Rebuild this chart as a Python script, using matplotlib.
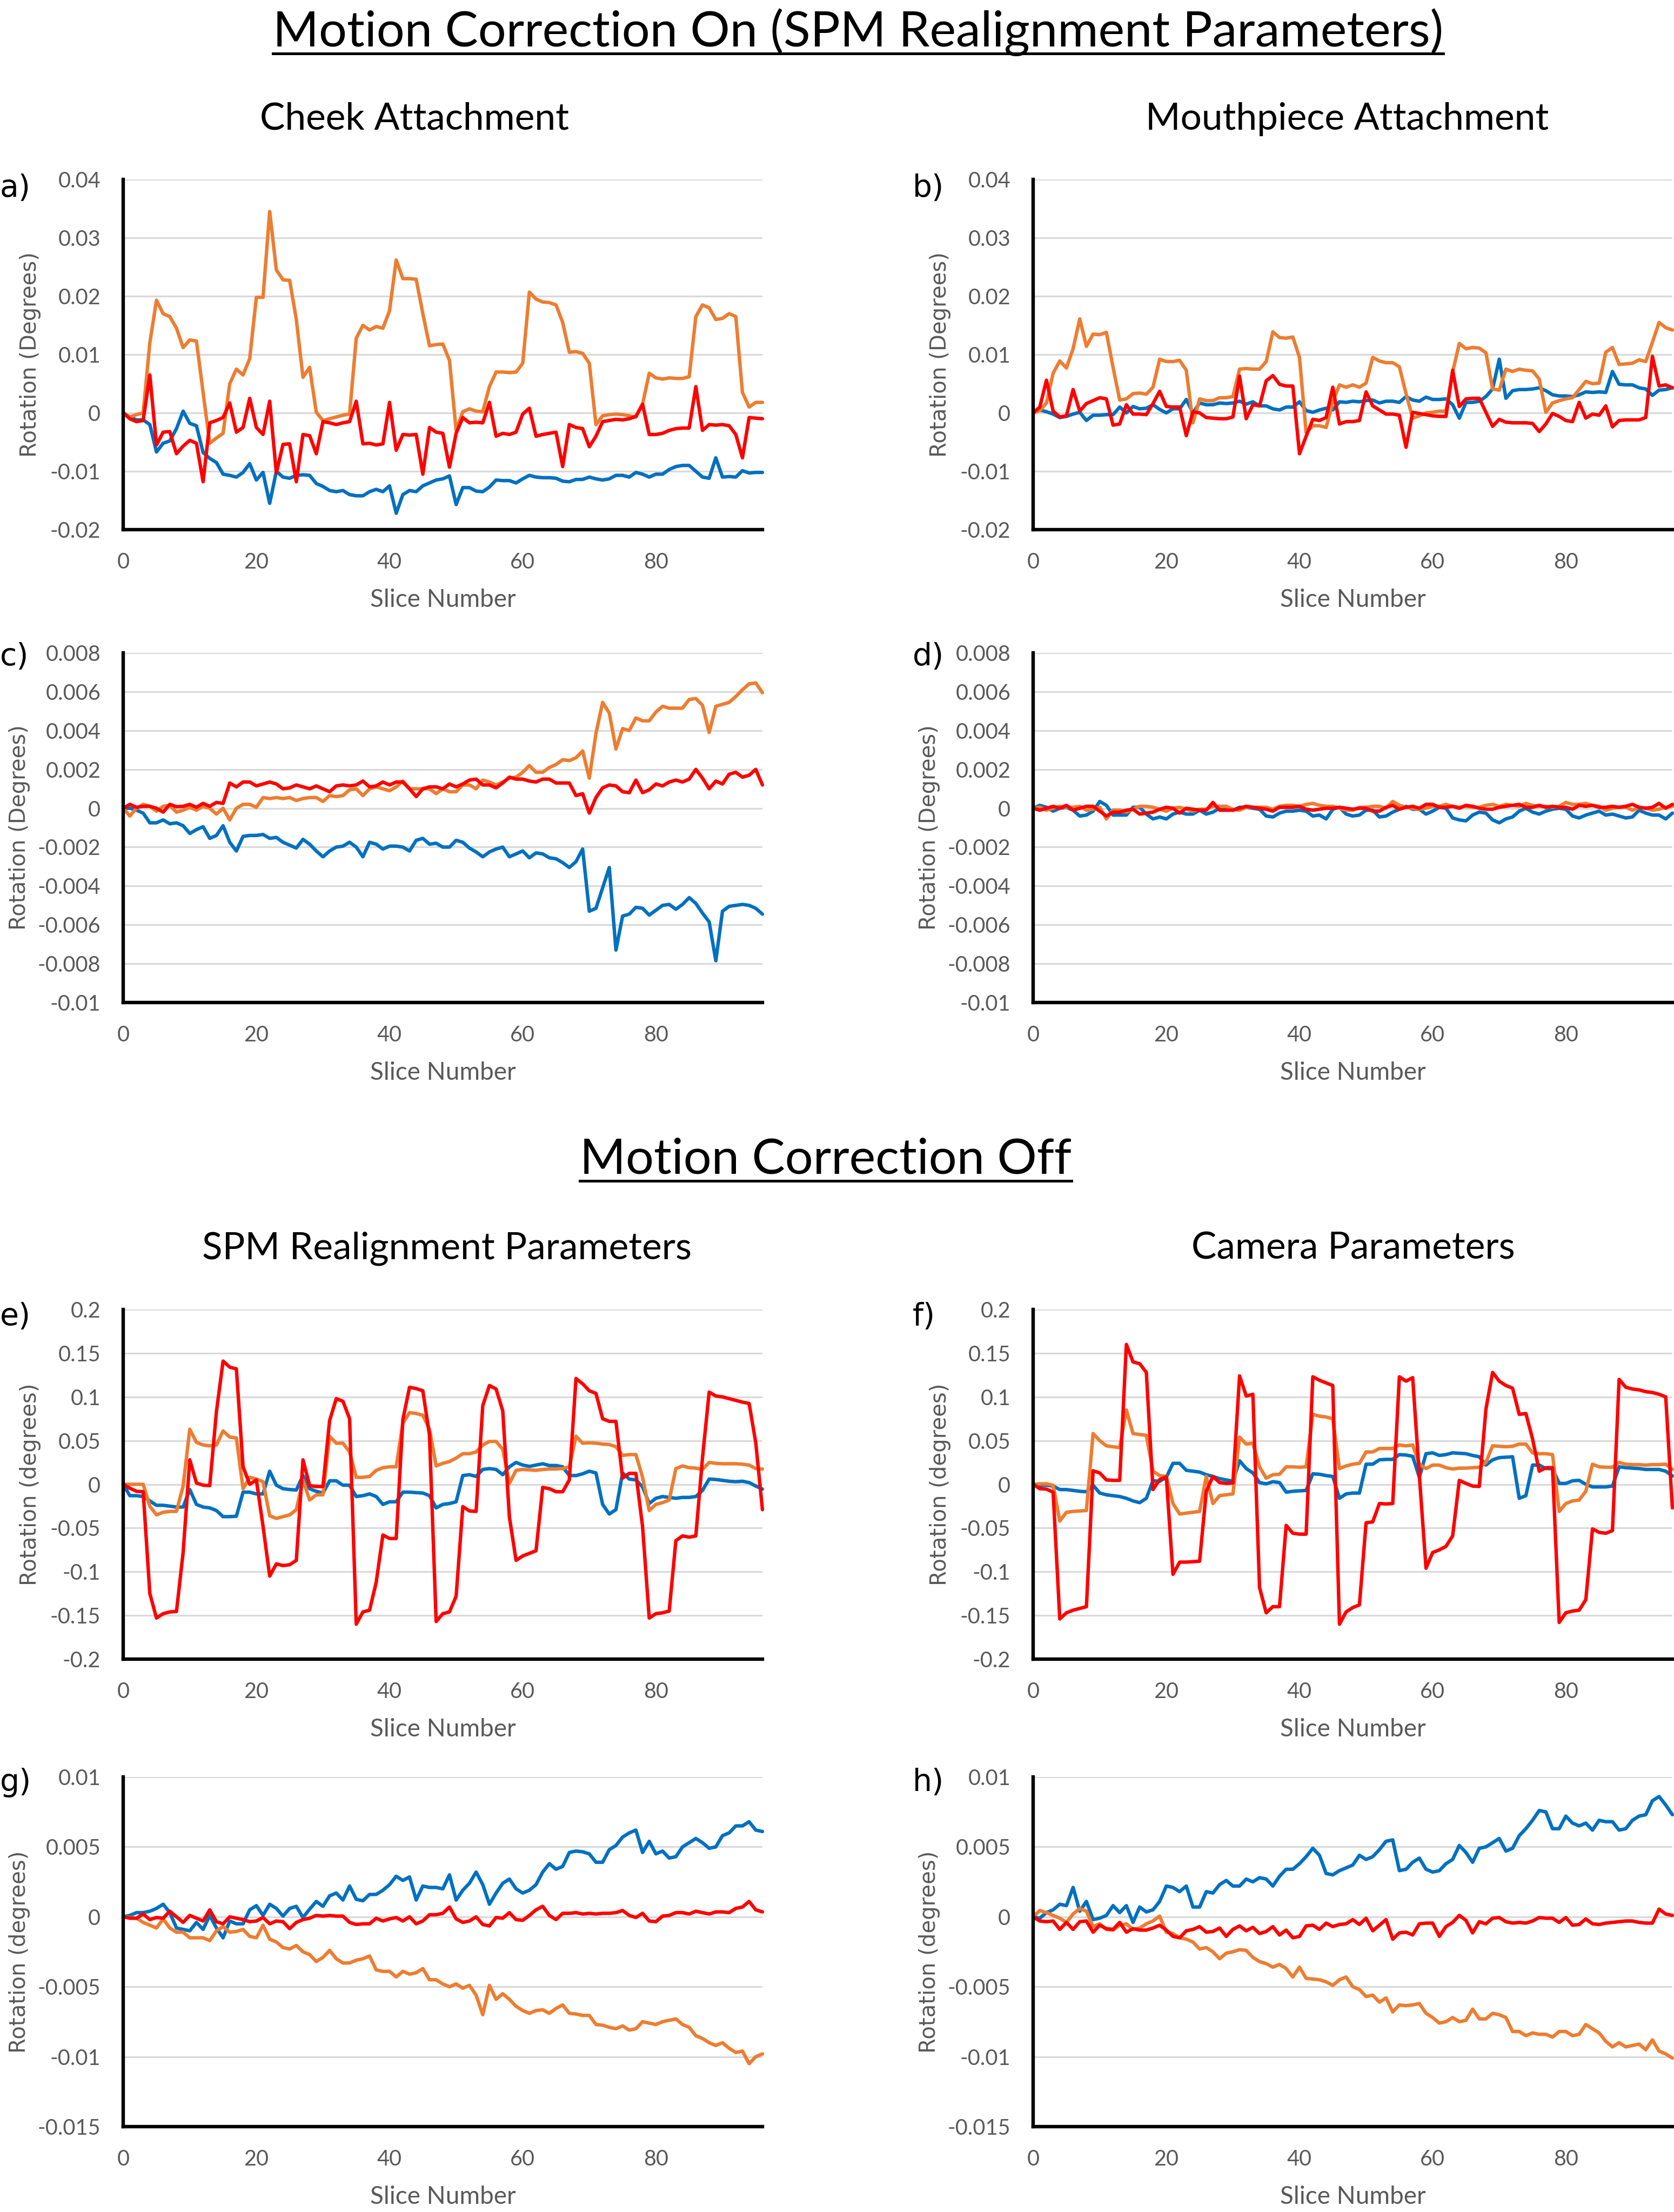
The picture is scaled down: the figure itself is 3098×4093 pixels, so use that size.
import matplotlib
matplotlib.use('Agg')
import matplotlib.pyplot as plt
import numpy as np
from matplotlib.lines import Line2D

# ---------------- data (slice 0..96) ----------------
slices = list(range(97))

# panel a (x1e-3)
a_blue = [0, -0.7, -1.2, -1.2, -2.0, -6.7, -5.2, -4.8, -2.7, 0.3, -1.8, -2.2, -6.8, -7.8, -8.5, -10.5, -10.7, -11.0, -10.2, -8.7,
          -11.5, -10.2, -15.5, -10.0, -11.0, -11.2, -10.7, -10.6, -10.7, -12.1, -12.6, -13.3, -13.5, -13.3, -14.0, -14.2, -14.2, -13.5, -13.1, -13.5,
          -12.5, -17.2, -14.0, -13.3, -13.5, -12.5, -12.0, -11.5, -11.3, -10.8, -15.7, -12.8, -12.8, -13.4, -13.5, -12.7, -11.5, -11.6, -11.6, -12.0,
          -11.3, -10.7, -11.0, -11.1, -11.1, -11.2, -11.7, -11.8, -11.4, -11.4, -11.0, -11.3, -11.5, -11.3, -10.7, -10.7, -11.0, -10.2, -10.5, -11.0,
          -10.5, -10.5, -9.7, -9.2, -9.0, -9.0, -10.0, -11.0, -11.2, -7.7, -11.0, -10.9, -11.0, -9.9, -10.3, -10.2, -10.2]
a_orange = [0, -0.7, -0.3, 0, 12, 19.3, 17, 16.5, 14.5, 11.2, 12.5, 12.3, 3.5, -5.2, -4.3, -3.5, 5, 7.5, 6.5, 9.3,
            19.8, 19.8, 34.5, 24.5, 22.8, 22.7, 16, 6.1, 7.8, 0.1, -1.3, -1.0, -0.7, -0.4, -0.2, 12.8, 15, 14.2, 14.8, 14.5,
            17.5, 26.2, 23, 23, 22.9, 17, 11.5, 11.7, 11.8, 9, -3, 0.2, 0.7, 0.3, 0.2, 4.5, 7, 7, 6.9, 7,
            8.5, 20.7, 19.5, 19, 18.9, 18.5, 15.5, 10.4, 10.5, 10.2, 8.5, -2, -0.5, -0.3, -0.2, -0.3, -0.5, -0.7, 1.5, 6.8,
            6, 5.8, 6, 5.9, 5.9, 6.2, 16.5, 18.5, 18, 16, 16.2, 17, 16.5, 3.5, 1, 1.8, 1.8]
a_red = [0, -1.0, -1.5, -1.3, 6.5, -5.5, -3.3, -3.2, -7.0, -5.7, -4.7, -5.2, -11.8, -1.7, -1.3, -0.8, 1.7, -3.3, -2.5, 2.5,
         -2.5, -3.7, 2.0, -10.3, -5.4, -5.3, -11.8, -3.7, -3.9, -7.0, -1.5, -1.7, -2.0, -1.7, -1.5, 2.0, -5.3, -5.2, -5.5, -5.3,
         1.8, -6.4, -3.7, -3.8, -3.7, -10.5, -2.5, -3.3, -3.5, -9.3, -3.5, -0.8, -1.7, -1.6, -1.7, 1.8, -4.0, -3.5, -3.7, -3.3,
         -0.2, 0.8, -4.0, -3.7, -3.5, -3.3, -9.2, -2.0, -2.5, -2.7, -5.8, -4.0, -1.5, -1.3, -1.1, -1.2, -1.0, -0.6, 1.5, -3.7,
         -3.7, -3.5, -3.0, -2.7, -2.6, -2.6, 4.5, -3.0, -2.0, -2.1, -2.0, -2.2, -3.7, -7.7, -0.8, -0.9, -1.0]

# panel b (x1e-3)
b_blue = [0, 0.5, 0.2, -0.2, -0.8, -0.6, -0.2, 0.1, -1.3, -0.4, -0.4, -0.3, -0.3, 1.0, 0.0, 1.1, 0.7, 0.8, 1.4, 0.6,
          0.0, 0.7, 0.7, 2.3, 0.0, 1.7, 1.4, 1.4, 1.7, 1.6, 1.7, 2.0, 1.5, 1.9, 1.2, 1.2, 0.7, 0.5, 1.0, 1.0,
          1.9, 0.4, 0.1, 0.5, 0.8, 0.5, 1.9, 1.8, 2.0, 1.9, 2.1, 2.2, 1.7, 2.0, 2.0, 1.8, 2.8, 2.2, 2.0, 2.7,
          2.3, 2.3, 2.4, 1.4, -0.9, 1.8, 1.8, 2.0, 2.8, 4.1, 9.2, 2.5, 3.8, 4.0, 4.0, 4.1, 4.3, 3.8, 3.1, 2.9,
          2.9, 2.8, 3.1, 3.6, 3.5, 3.6, 3.5, 7.1, 4.9, 4.8, 4.8, 4.3, 4.1, 3.0, 3.9, 4.0, 4.3]
b_orange = [0, 0.4, 1.7, 6.8, 8.9, 7.7, 11.0, 16.1, 11.4, 13.5, 13.4, 13.8, 7.8, 2.2, 2.4, 3.3, 3.4, 3.2, 4.4, 9.2,
            8.8, 8.8, 9.0, 7.3, -1.7, 2.4, 2.1, 2.1, 2.6, 2.6, 2.8, 7.5, 7.6, 7.5, 7.5, 8.8, 13.9, 12.9, 12.8, 13.0,
            9.5, -3.4, -2.2, -2.2, -2.5, 1.9, 4.8, 4.4, 4.8, 4.4, 5.1, 9.5, 8.9, 8.6, 8.6, 7.9, 3.3, -0.9, -0.5, 0.0,
            0.1, 0.3, 0.3, 7.0, 11.9, 11.0, 11.2, 11.1, 10.3, 4.1, 3.9, 7.5, 7.1, 7.5, 7.3, 7.2, 5.8, 0.1, 1.7, 2.1,
            2.4, 2.6, 4.0, 5.4, 5.0, 5.1, 10.4, 11.2, 8.3, 8.4, 8.5, 9.1, 8.8, 12.1, 15.5, 14.6, 14.2]
b_red = [0, 1.0, 5.6, 0.3, -0.7, -0.5, 4.0, 0.3, 1.6, 2.1, 2.6, 2.4, -2.1, -1.9, 1.4, -0.2, -0.2, -0.3, 1.6, 3.7,
         1.1, 1.0, 1.0, -3.9, 0.2, 0.0, -0.8, -0.9, -1.0, -1.0, -0.7, 6.3, -1.0, 1.4, 1.2, 5.5, 6.4, 4.9, 4.6, 4.6,
         -7.0, -4.0, -1.1, -1.3, -0.8, 4.4, -1.9, -1.5, -1.5, -1.3, 3.6, 1.2, 0.5, -0.2, -0.2, -0.4, -5.9, 0.1, -0.1, -0.3,
         -0.5, -0.6, -0.6, 7.3, 1.1, 2.4, 2.5, 2.5, 0.1, -2.3, -1.1, -1.6, -1.7, -1.7, -1.7, -1.8, -3.2, -1.9, -0.1, -0.6,
         -1.3, -1.5, 1.8, -0.9, -0.2, -0.4, 1.2, -2.4, -1.3, -1.2, -1.2, -1.2, -0.8, 9.7, 4.6, 4.8, 4.3]

# panel c (x1e-3)
c_blue = [0, 0, -0.1, -0.25, -0.75, -0.75, -0.6, -0.8, -0.75, -0.9, -1.3, -1.1, -0.95, -1.55, -1.4, -0.9, -1.75, -2.2, -1.45, -1.4,
          -1.4, -1.35, -1.55, -1.5, -1.75, -1.9, -2.05, -1.6, -1.85, -2.2, -2.5, -2.2, -2.0, -1.95, -1.75, -2.0, -2.5, -1.75, -1.85, -2.1,
          -1.95, -1.95, -2.0, -2.2, -1.65, -1.55, -1.85, -1.8, -2.0, -2.0, -1.65, -1.75, -2.05, -2.25, -2.5, -2.25, -2.1, -2.0, -2.5, -2.35,
          -2.2, -2.55, -2.3, -2.35, -2.55, -2.6, -2.8, -3.05, -2.75, -2.1, -5.3, -5.15, -4.1, -3.05, -7.3, -5.55, -5.45, -5.1, -5.15, -5.5,
          -5.25, -5.0, -4.95, -5.2, -4.95, -4.6, -4.9, -5.4, -5.85, -7.85, -5.3, -5.05, -5.0, -4.95, -5.0, -5.15, -5.45]
c_orange = [0, -0.4, 0, 0.2, 0.1, -0.15, 0.1, 0.15, -0.2, -0.1, 0.05, -0.1, 0.1, 0, -0.3, 0, -0.6, 0, 0.2, 0.2,
            0.05, 0.55, 0.5, 0.55, 0.5, 0.55, 0.4, 0.5, 0.55, 0.55, 0.35, 0.65, 0.6, 0.65, 0.95, 1.0, 0.65, 1.0, 1.1, 1.0,
            0.9, 1.1, 1.4, 1.0, 1.0, 1.0, 1.0, 0.75, 1.0, 0.85, 0.85, 1.2, 1.2, 1.0, 1.45, 1.35, 1.2, 1.35, 1.55, 1.6,
            1.85, 2.2, 1.85, 1.85, 2.1, 2.25, 2.5, 2.45, 2.6, 2.95, 1.55, 3.85, 5.45, 4.9, 3.05, 4.1, 4.0, 4.65, 4.5, 4.5,
            4.95, 5.25, 5.15, 5.15, 5.15, 5.6, 5.65, 5.3, 3.9, 5.25, 5.35, 5.45, 5.75, 6.1, 6.4, 6.45, 5.95]
c_red = [0, 0.2, 0.05, 0.1, 0.1, 0, -0.2, 0.2, 0.08, 0.1, 0.2, 0.05, 0.25, 0.1, 0.3, 0.25, 1.3, 1.1, 1.35, 1.35,
         1.15, 1.25, 1.35, 1.25, 1.0, 1.05, 1.2, 1.1, 1.0, 1.15, 1.0, 0.85, 1.15, 1.2, 1.15, 1.2, 1.4, 1.1, 1.15, 1.35,
         1.2, 1.35, 1.35, 1.0, 0.6, 1.0, 1.1, 1.1, 1.0, 1.25, 1.1, 1.25, 1.45, 1.5, 1.2, 1.2, 1.05, 1.3, 1.6, 1.5,
         1.5, 1.4, 1.35, 1.5, 1.5, 1.3, 1.3, 1.3, 0.65, 0.75, -0.25, 0.55, 1.05, 1.2, 1.15, 0.85, 0.8, 1.45, 0.8, 0.95,
         1.25, 1.15, 1.35, 1.45, 1.35, 1.5, 2.0, 1.55, 1.0, 1.4, 1.25, 1.75, 1.85, 1.6, 1.7, 2.0, 1.2]

# panel d (x1e-3)
d_blue = [0, 0.15, 0.05, -0.15, 0, 0.05, -0.1, -0.4, -0.35, -0.15, 0.35, 0.15, -0.35, -0.35, -0.35, 0.05, 0.05, -0.3, -0.55, -0.45,
          -0.55, -0.3, -0.2, -0.3, -0.3, -0.1, -0.3, -0.2, 0, 0.05, -0.1, 0.05, 0.05, 0, -0.05, -0.4, -0.45, -0.25, -0.15, -0.15,
          -0.1, -0.15, -0.4, -0.35, -0.55, -0.05, 0.05, -0.3, -0.4, -0.35, -0.1, -0.1, -0.45, -0.4, -0.2, -0.05, 0.1, -0.05, -0.05, -0.3,
          -0.15, 0.05, 0, -0.5, -0.6, -0.65, -0.35, -0.2, -0.25, -0.6, -0.75, -0.55, -0.45, -0.15, 0, -0.2, -0.3, -0.15, -0.05, 0,
          -0.05, -0.4, -0.5, -0.35, -0.25, -0.15, -0.35, -0.3, -0.4, -0.5, -0.45, -0.1, -0.25, -0.35, -0.35, -0.55, -0.25]
d_orange = [0, 0.05, -0.1, 0, 0.1, 0.05, 0.05, 0.1, -0.1, -0.05, 0.05, -0.55, -0.1, -0.1, -0.2, -0.05, 0.1, 0.1, 0.05, -0.05,
            -0.15, 0, 0.05, -0.05, -0.15, -0.05, -0.05, 0.1, 0.1, 0.1, -0.05, -0.1, 0.05, 0.05, 0.05, 0.05, -0.05, 0.1, 0.15, 0.15,
            0.1, 0.2, 0.25, 0.15, 0.1, 0.1, 0, -0.1, -0.1, 0.05, 0.05, 0.1, 0.1, 0, 0.35, 0.15, 0.05, 0, -0.05, 0,
            0.1, 0.1, 0.2, 0.1, 0.05, 0.1, 0.05, 0.05, 0.15, 0.2, 0.1, 0.2, 0.15, 0.1, 0.25, 0.15, 0.1, 0.1, 0.05, 0.1,
            0.3, 0.2, 0.2, 0.25, 0.15, 0.1, -0.1, 0, 0.05, 0.05, -0.1, 0.05, 0, -0.1, -0.05, 0.05, 0.1]
d_red = [0, -0.1, 0, 0.1, 0, 0.15, -0.1, 0, 0.1, 0.1, -0.15, -0.4, -0.2, -0.2, -0.1, -0.05, -0.3, -0.25, -0.2, -0.05,
         0.05, 0, -0.25, 0, -0.05, -0.1, -0.1, 0.3, -0.1, -0.1, -0.1, 0, 0.1, 0.05, 0, -0.05, -0.15, 0.05, 0.05, 0.05,
         0.1, -0.05, -0.1, -0.05, 0, 0, 0.05, 0, -0.05, 0, 0, -0.15, -0.15, 0.05, 0.15, -0.05, 0.05, 0.1, 0, 0.2,
         0.2, 0.05, 0.05, 0.1, 0, 0.15, 0.1, 0, -0.05, -0.05, 0.05, 0.1, 0.15, 0.2, 0.05, 0.05, 0.15, 0.05, 0.1, 0.05,
         0.05, -0.05, 0.15, 0.1, 0.15, 0.05, 0.05, 0.1, 0.05, 0.1, 0.2, 0.05, 0, 0.05, 0.25, 0, 0.2]

# panel e (x1e-2)
e_blue = [0, -1.3, -1.3, -1.4, -1.9, -2.4, -2.4, -2.5, -2.6, -2.6, -0.6, -2.3, -2.6, -2.7, -3.0, -3.7, -3.7, -3.65, -0.9, -0.9,
          -1.1, -1.1, 1.5, -0.1, -0.5, -0.6, -0.65, 1.0, -0.5, -0.8, -1.0, 0.4, 0.4, -0.1, -0.1, -1.4, -1.3, -1.1, -1.4, -2.3,
          -2.0, -2.0, -0.9, -0.9, -0.95, -1.0, -1.3, -2.7, -2.3, -2.2, -2.0, 1.0, 1.1, 0.9, 1.7, 1.8, 1.7, 1.1, 2.0, 2.5,
          2.2, 2.05, 2.2, 2.35, 2.15, 2.15, 2.0, 1.0, 1.0, 1.2, 1.5, 1.3, -2.3, -3.4, -2.9, 1.3, 0.6, 0.5, -0.3, -2.2,
          -1.6, -1.4, -1.5, -1.6, -1.5, -1.5, -1.4, -0.7, 0.6, 0.55, 0.45, 0.35, 0.3, 0.35, 0.2, -0.2, -0.55]
e_orange = [0, 0, 0, 0, -2.5, -3.5, -3.2, -3.1, -3.1, -0.2, 6.3, 4.8, 4.5, 4.4, 4.5, 6.1, 5.4, 5.3, -0.5, 0.8,
            0.6, 0.3, -3.6, -3.9, -3.7, -3.5, -2.9, 0.5, -1.8, -1.2, -1.2, 5.5, 4.7, 4.7, 3.7, 0.8, 0.8, 0.9, 1.6, 1.9,
            2.0, 2.0, 7.0, 8.2, 8.1, 7.9, 6.3, 2.1, 2.4, 2.6, 3.0, 3.5, 3.5, 3.7, 4.5, 4.9, 4.9, 4.0, 0.1, 1.6,
            1.7, 1.65, 1.6, 1.7, 1.75, 1.75, 1.8, 2.0, 5.5, 4.7, 4.75, 4.7, 4.6, 4.55, 4.3, 3.3, 3.4, 3.4, 0.8, -3.0,
            -2.3, -2.1, -1.8, 1.8, 2.1, 1.9, 1.85, 1.7, 2.5, 2.4, 2.35, 2.35, 2.35, 2.3, 2.2, 1.8, 1.75]
e_red = [0, -0.45, -0.8, -0.85, -12.5, -15.3, -14.8, -14.6, -14.55, -7.8, 2.8, 0.15, -0.1, -0.15, 8.3, 14.1, 13.4, 13.2, 2.0, 0,
         0.5, -4.8, -10.5, -9.1, -9.3, -9.2, -8.7, 2.8, -0.15, -0.25, -0.25, 7.3, 9.8, 9.5, 7.5, -16.0, -14.6, -14.4, -11.2, -5.8,
         -6.2, -6.2, 7.4, 11.1, 10.95, 10.7, 5.6, -15.7, -14.8, -14.6, -12.8, -2.55, -3.05, -3.1, 9.0, 11.3, 10.9, 8.4, -3.75, -8.7,
         -8.2, -7.9, -7.6, -0.35, -0.5, -0.85, -0.85, 0.5, 12.1, 11.5, 10.7, 10.4, 7.5, 7.2, 7.2, 0.7, 1.25, 1.25, -4.85, -15.3,
         -14.8, -14.7, -14.5, -6.45, -5.9, -6.05, -5.9, 3.05, 10.55, 10.1, 10.0, 9.8, 9.6, 9.4, 9.25, 4.75, -2.9]

# panel f (x1e-2)
f_blue = [0, -0.15, -0.1, -0.2, -0.6, -0.6, -0.7, -0.8, -0.85, -0.1, -1.0, -1.2, -1.3, -1.4, -1.6, -1.9, -2.1, -1.6, 0.4, 0.35,
          0.8, 2.4, 2.4, 1.6, 1.5, 1.4, 1.1, 0.9, 0.65, 0.5, 0.35, 2.7, 1.8, 1.3, 0.2, 0.05, 0.3, 0.2, -0.9, -0.8,
          -0.75, -0.7, 1.2, 1.15, 1.0, 0.9, -1.6, -1.1, -1.0, -1.0, 2.3, 2.3, 2.8, 2.85, 2.85, 3.4, 3.35, 3.2, 0.8, 3.5,
          3.6, 3.3, 3.4, 3.6, 3.55, 3.5, 3.3, 3.15, 2.2, 2.8, 3.05, 3.1, 3.15, -1.6, -1.3, 2.2, 2.2, 1.8, 1.8, 0.1,
          0.1, 0.4, 0.45, 0.0, -0.3, -0.3, -0.3, -0.2, 2.0, 1.9, 1.85, 1.8, 1.7, 1.7, 1.7, 1.5, 0.95]
f_orange = [0, 0.05, 0.05, -0.1, -4.2, -3.2, -3.1, -3.05, -3.0, 5.8, 5.0, 4.4, 4.3, 4.2, 8.5, 5.8, 5.7, 5.6, 1.5, 1.0,
            0.9, -2.2, -3.4, -3.3, -3.2, -3.1, 0.9, -2.2, -1.3, -1.2, -1.1, 5.4, 4.6, 4.7, 2.0, 0.7, 1.1, 1.15, 2.0, 2.0,
            1.95, 2.0, 8.0, 7.8, 7.7, 7.5, 1.8, 2.1, 2.3, 2.4, 3.7, 3.7, 4.1, 4.1, 4.1, 4.5, 4.4, 4.5, 2.3, 1.8,
            2.2, 2.2, 1.9, 1.75, 1.85, 1.85, 1.9, 1.95, 2.5, 4.4, 4.35, 4.3, 4.35, 4.6, 4.6, 3.6, 3.5, 3.5, 3.4, -3.1,
            -2.2, -1.9, -1.8, -0.8, 2.3, 2.0, 1.95, 1.95, 2.5, 2.3, 2.25, 2.25, 2.2, 2.25, 2.25, 2.3, 1.7]
f_red = [0, -0.5, -0.55, -0.9, -15.4, -14.7, -14.4, -14.2, -14.0, 1.55, 1.3, 0.5, 0.45, 0.45, 16.0, 14.0, 13.8, 12.8, -0.6, 0.55,
         0.85, -10.3, -8.9, -8.9, -8.85, -8.8, -0.8, 0.9, 0.2, 0.1, 0.15, 12.4, 10.1, 10.3, -11.8, -14.7, -14.0, -14.0, -4.7, -5.6,
         -5.7, -5.7, 12.3, 11.9, 11.6, 11.3, -16.0, -14.6, -14.1, -13.8, -4.4, -4.3, -2.2, -2.25, -2.2, 12.3, 11.8, 12.2, 1.0, -9.6,
         -7.8, -7.5, -7.1, -5.9, 0.45, 0.1, -0.2, -0.25, 8.6, 12.8, 11.8, 11.3, 11.0, 8.0, 8.1, 5.2, 1.5, 1.9, 1.9, -15.8,
         -14.7, -14.5, -14.4, -13.2, -5.1, -5.5, -5.6, -5.3, 12.0, 11.1, 10.9, 10.8, 10.6, 10.5, 10.3, 10.0, -2.7]

# panel g (x1e-3)
g_blue = [0, 0.1, 0.3, 0.3, 0.4, 0.6, 0.9, 0.3, -0.8, -0.9, -1.0, -0.4, -0.9, 0.1, -0.8, -1.5, -0.3, -0.5, -0.5, 0.5,
          0.8, 0.1, 0.9, 0.6, 0.05, 0.6, 0.75, -0.05, 0.55, 1.1, 0.75, 1.5, 1.7, 1.2, 2.2, 1.25, 1.15, 1.6, 1.6, 1.9,
          2.3, 2.9, 2.6, 2.85, 1.2, 2.2, 2.1, 2.1, 2.0, 3.0, 1.2, 1.9, 2.4, 3.2, 2.3, 0.9, 1.7, 2.4, 2.7, 2.0,
          1.7, 1.9, 2.3, 3.2, 3.8, 3.4, 3.6, 4.6, 4.7, 4.65, 4.5, 3.9, 3.9, 4.8, 5.1, 5.7, 6.0, 6.2, 4.6, 5.4,
          4.5, 4.7, 4.2, 4.3, 5.0, 5.3, 5.6, 5.3, 4.9, 5.0, 5.8, 6.0, 6.5, 6.5, 6.8, 6.2, 6.1]
g_orange = [0, -0.05, -0.1, -0.4, -0.6, -0.8, -0.15, -0.8, -1.1, -1.1, -1.5, -1.5, -1.5, -1.7, -1.0, -0.7, -1.1, -1.05, -0.9, -1.4,
            -1.5, -0.6, -1.6, -1.8, -2.2, -2.3, -2.05, -2.5, -2.7, -3.2, -2.9, -2.4, -3.0, -3.3, -3.3, -3.1, -3.0, -2.8, -3.8, -3.9,
            -3.9, -4.3, -3.9, -4.1, -4.0, -3.7, -4.5, -4.5, -4.8, -5.0, -4.8, -5.1, -4.9, -5.6, -7.0, -4.9, -5.9, -5.5, -5.9, -6.4,
            -6.7, -6.9, -6.7, -6.65, -6.9, -6.55, -6.3, -6.9, -6.95, -7.05, -7.05, -7.7, -7.75, -7.9, -8.0, -7.8, -8.1, -8.0, -7.5, -7.6,
            -7.7, -7.5, -7.4, -7.3, -7.7, -7.9, -8.5, -8.7, -9.0, -9.2, -9.0, -9.4, -9.7, -9.6, -10.5, -10.0, -9.8]
g_red = [0, -0.1, -0.1, 0.2, -0.2, -0.05, -0.1, 0.4, 0.0, -0.4, 0.1, -0.1, -0.3, 0.5, -0.35, -0.5, 0.0, -0.1, -0.2, -0.35,
         -0.3, -0.05, -0.5, -0.3, -0.35, -0.85, -0.4, -0.2, -0.1, 0.1, 0.05, 0.1, 0.05, 0.05, -0.4, -0.55, -0.5, -0.5, -0.1, -0.3,
         -0.15, -0.05, -0.3, 0.0, -0.5, -0.3, 0.15, 0.15, 0.25, 0.7, -0.15, -0.4, -0.3, 0.0, -0.55, -0.65, -0.05, -0.1, 0.3, -0.2,
         -0.25, 0.1, 0.5, 0.75, 0.1, -0.2, 0.25, 0.25, 0.3, 0.2, 0.25, 0.2, 0.25, 0.25, 0.3, 0.45, 0.1, -0.05, 0.25, -0.3,
         -0.35, 0.05, 0.1, 0.3, 0.3, 0.2, 0.4, 0.3, 0.2, 0.35, 0.35, 0.3, 0.6, 0.7, 1.1, 0.5, 0.35]

# panel h (x1e-3)
h_blue = [0, -0.1, 0.3, 0.5, 0.9, 0.8, 2.1, 0.4, 1.1, -0.2, -0.1, 0.1, 0.8, 0.3, 0.8, -0.4, 0.7, 0.35, 0.5, 1.1,
          2.2, 2.1, 1.8, 2.2, 0.7, 0.7, 1.8, 1.7, 2.3, 2.6, 2.2, 2.2, 2.7, 2.5, 2.8, 2.7, 2.2, 2.9, 3.4, 3.4,
          3.8, 4.3, 4.9, 4.4, 3.1, 3.0, 3.3, 3.5, 3.7, 4.4, 4.1, 4.3, 4.8, 5.4, 5.5, 3.3, 3.4, 3.9, 4.2, 3.4,
          3.2, 3.3, 3.8, 4.1, 5.1, 4.6, 3.9, 4.9, 5.0, 5.3, 5.6, 4.7, 4.9, 5.8, 6.3, 6.9, 7.6, 7.5, 6.3, 6.3,
          7.2, 6.7, 6.5, 6.7, 6.2, 6.9, 6.8, 6.8, 6.2, 6.3, 6.9, 7.2, 7.3, 8.3, 8.6, 8.0, 7.3]
h_orange = [0, 0.45, 0.3, 0.1, -0.1, -0.4, 0.2, 0.6, 0.4, -0.7, -0.5, -0.9, -0.95, -0.6, -0.5, -0.9, -0.8, -0.5, -0.3, 0.05,
            -1.1, -1.2, -1.5, -1.6, -1.8, -2.3, -2.2, -2.5, -3.0, -2.6, -2.5, -2.35, -2.4, -2.9, -3.2, -3.35, -3.6, -3.4, -3.7, -4.3,
            -3.6, -4.4, -4.45, -4.5, -4.65, -4.9, -4.5, -4.3, -5.0, -5.2, -5.7, -5.6, -6.1, -5.8, -6.8, -6.3, -6.35, -6.3, -6.2, -6.9,
            -7.2, -7.6, -7.5, -7.2, -7.5, -7.4, -6.6, -7.3, -7.3, -6.9, -7.0, -7.2, -8.2, -8.2, -8.5, -8.3, -8.4, -8.4, -8.6, -8.2,
            -8.2, -8.5, -8.4, -7.7, -8.0, -8.3, -8.9, -9.3, -9.0, -9.3, -9.2, -9.1, -9.5, -8.8, -9.6, -9.8, -10.1]
h_red = [0, -0.3, -0.35, -0.3, -0.9, -0.4, -0.9, -0.35, -0.3, -1.1, -0.6, -0.85, -0.9, -0.4, -1.1, -0.85, -0.95, -0.95, -0.8, -0.6,
         -0.95, -1.4, -1.5, -1.0, -0.9, -0.7, -1.1, -1.05, -0.8, -1.4, -0.9, -0.65, -1.0, -0.75, -1.2, -1.05, -0.7, -1.3, -0.95, -1.5,
         -1.4, -0.65, -0.6, -0.9, -0.45, -0.7, -0.55, -0.5, -0.2, -0.55, -0.1, -1.0, -0.6, -0.2, -1.6, -1.15, -1.1, -1.3, -0.5, -0.45,
         -0.45, -1.4, -0.7, -0.4, 0.1, -0.25, -1.15, -0.35, -0.5, -0.1, -0.05, -0.35, -0.45, -0.4, -0.45, -0.3, -0.05, -0.1, -0.1, -0.4,
         -0.05, -0.6, -0.55, -0.15, -0.5, -0.55, -0.45, -0.4, -0.35, -0.3, -0.3, -0.4, -0.45, -0.45, 0.55, 0.2, 0.1]

# tick definitions
yt_ab = [-0.02, -0.01, 0, 0.01, 0.02, 0.03, 0.04]
yl_ab = ['-0.02', '-0.01', '0', '0.01', '0.02', '0.03', '0.04']
yt_cd = [-0.01, -0.008, -0.006, -0.004, -0.002, 0, 0.002, 0.004, 0.006, 0.008]
yl_cd = ['-0.01', '-0.008', '-0.006', '-0.004', '-0.002', '0', '0.002', '0.004', '0.006', '0.008']
yt_ef = [-0.2, -0.15, -0.1, -0.05, 0, 0.05, 0.1, 0.15, 0.2]
yl_ef = ['-0.2', '-0.15', '-0.1', '-0.05', '0', '0.05', '0.1', '0.15', '0.2']
yt_gh = [-0.015, -0.01, -0.005, 0, 0.005, 0.01]
yl_gh = ['-0.015', '-0.01', '-0.005', '0', '0.005', '0.01']
xt = [0, 20, 40, 60, 80]
xl = ['0', '20', '40', '60', '80']

# ---------------- figure ----------------
W, H = 3098, 4093
DPI = 100
fig = plt.figure(figsize=(W / DPI, H / DPI), dpi=DPI)
fig.patch.set_facecolor('white')

BLUE, ORANGE, RED = '#0070C0', '#ED7D31', '#FF0000'
GRAY = '#595959'
GRID = '#D9D9D9'

col_left = [228, 1912]
col_w = 1183
row_top = [332, 1208, 2423, 3288]
row_bot = [980, 1855, 3070, 3935]

panels = [
    ('a)', 0, 0, a_blue, a_orange, a_red, 1e-3, yt_ab, yl_ab, 'Rotation (Degrees)'),
    ('b)', 0, 1, b_blue, b_orange, b_red, 1e-3, yt_ab, yl_ab, 'Rotation (Degrees)'),
    ('c)', 1, 0, c_blue, c_orange, c_red, 1e-3, yt_cd, yl_cd, 'Rotation (Degrees)'),
    ('d)', 1, 1, d_blue, d_orange, d_red, 1e-3, yt_cd, yl_cd, 'Rotation (Degrees)'),
    ('e)', 2, 0, e_blue, e_orange, e_red, 1e-2, yt_ef, yl_ef, 'Rotation (degrees)'),
    ('f)', 2, 1, f_blue, f_orange, f_red, 1e-2, yt_ef, yl_ef, 'Rotation (degrees)'),
    ('g)', 3, 0, g_blue, g_orange, g_red, 1e-3, yt_gh, yl_gh, 'Rotation (degrees)'),
    ('h)', 3, 1, h_blue, h_orange, h_red, 1e-3, yt_gh, yl_gh, 'Rotation (degrees)'),
]

letter_y = [348, 1215, 2437, 3299]
letter_x = [0, 1689]

for (lab, r, c, yb, yo, yr, sc, yt, yl, ylab) in panels:
    left = col_left[c] / W
    bottom = 1 - row_bot[r] / H
    height = (row_bot[r] - row_top[r]) / H
    ax = fig.add_axes([left, bottom, col_w / W, height])
    x = np.array(slices)
    for vals, colr in ((yb, BLUE), (yo, ORANGE), (yr, RED)):
        ax.plot(x, np.array(vals) * sc, color=colr, lw=4.6, solid_joinstyle='round',
                solid_capstyle='round', clip_on=False, zorder=3)
    ax.set_xlim(0, 96)
    ax.set_ylim(yt[0], yt[-1])
    ax.set_yticks(yt)
    ax.set_yticklabels(yl)
    ax.set_xticks(xt)
    ax.set_xticklabels(xl)
    ax.tick_params(axis='both', length=0, pad=30, labelsize=28.5, labelcolor=GRAY)
    for t in ax.get_xticklabels() + ax.get_yticklabels():
        t.set_fontfamily('Lato')
    ax.yaxis.grid(True, color=GRID, lw=2.3, zorder=0)
    ax.xaxis.grid(False)
    ax.set_axisbelow(True)
    for s in ('top', 'right'):
        ax.spines[s].set_visible(False)
    for s in ('left', 'bottom'):
        ax.spines[s].set_color('black')
        ax.spines[s].set_linewidth(4.6)
        ax.spines[s].set_zorder(4)
    ax.set_facecolor('none')
    # labels
    ax.set_xlabel('Slice Number', fontsize=33, color=GRAY, family='Lato')
    ax.xaxis.label.set_va('baseline')
    axh_px = row_bot[r] - row_top[r]
    ax.xaxis.set_label_coords(0.5, -143 / axh_px)
    ax.set_ylabel(ylab, fontsize=29, color=GRAY, family='DejaVu Sans')
    ax.yaxis.label.set_va('center')
    ax.yaxis.set_label_coords(-0.145 if r in (0, 2) else -0.162, 0.5)
    # panel letter
    fig.text(letter_x[c] / W, 1 - letter_y[r] / H, lab, fontsize=41, family='DejaVu Sans',
             color='black', ha='left', va='center')

# titles
t1 = fig.text(1588 / W, 1 - 86 / H, 'Motion Correction On (SPM Realignment Parameters)',
              ha='center', va='baseline', fontsize=66, family='Lato', color='black')
t2 = fig.text(1528 / W, 1 - 2172 / H, 'Motion Correction Off',
              ha='center', va='baseline', fontsize=66, family='Lato', color='black')
fig.text(767 / W, 1 - 240 / H, 'Cheek Attachment', ha='center', va='baseline', fontsize=50, family='Lato')
fig.text(2493 / W, 1 - 240 / H, 'Mouthpiece Attachment', ha='center', va='baseline', fontsize=50, family='Lato')
fig.text(827 / W, 1 - 2329 / H, 'SPM Realignment Parameters', ha='center', va='baseline', fontsize=50, family='Lato')
fig.text(2504 / W, 1 - 2329 / H, 'Camera Parameters', ha='center', va='baseline', fontsize=50, family='Lato')

fig.canvas.draw()
renderer = fig.canvas.get_renderer()
for t, base in ((t1, 86), (t2, 2172)):
    bb = t.get_window_extent(renderer)
    yline = 1 - (base + 13) / H
    fig.add_artist(Line2D([bb.x0 / W, bb.x1 / W], [yline, yline], transform=fig.transFigure,
                          color='black', lw=3.6))

fig.savefig('out.png', dpi=DPI, facecolor='white')
